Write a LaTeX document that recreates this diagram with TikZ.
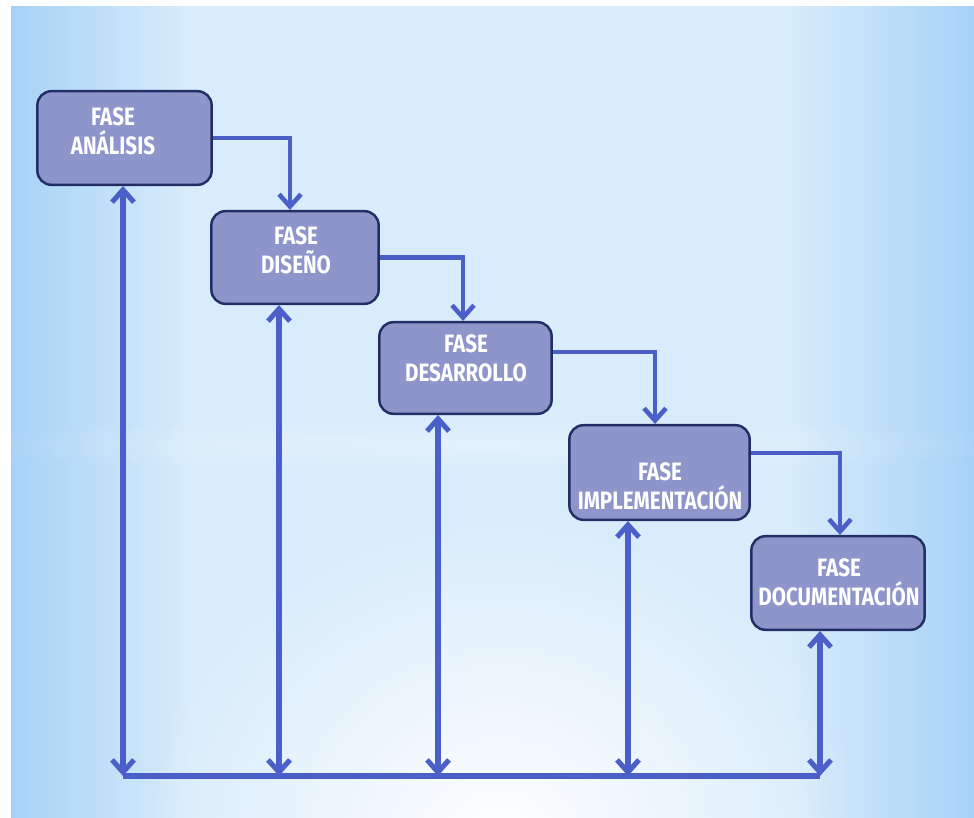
\documentclass[tikz,border=0pt]{standalone}
\usepackage{fontspec}
\usepackage{graphicx}
\setmainfont{Fira Sans}
\usetikzlibrary{arrows.meta,calc,fadings}
\definecolor{bgedge}{HTML}{A6D2F6}
\definecolor{bgmid}{HTML}{D8ECFB}
\definecolor{boxfill}{HTML}{8E95CB}
\definecolor{boxline}{HTML}{232E66}
\definecolor{arr}{HTML}{4A5FC8}
\newcommand\nar[1]{\scalebox{0.82}[1]{#1}}
\def\pxu{0.5669pt}
\tikzfading[name=softglow, inner color=transparent!0, outer color=transparent!100]
\begin{document}
\begin{tikzpicture}[x=0.02cm,y=-0.02cm,
 phase/.style={draw=boxline, line width=1.4pt, fill=boxfill, rounded corners=8pt, inner sep=0pt},
 lbl/.style={text=white, font=\bfseries\fontsize{14.3}{16.5}\selectfont, align=center, inner sep=0pt},
 flow/.style={draw=arr, line width=2.6pt, -{Straight Barb[length=7pt,width=12.5pt]}},
 link/.style={draw=arr, line width=2.9pt, {Straight Barb[length=7pt,width=12.5pt]}-{Straight Barb[length=7pt,width=12.5pt]}},
 base/.style={draw=arr, line width=3.6pt}]
\useasboundingbox (0,0) rectangle (974,818);
\fill[white] (0,0) rectangle (974,818);
\fill[bgmid] (11,6) rectangle (974,818);
\shade[left color=bgedge, right color=bgmid] (11,6) rectangle (190,818);
\shade[left color=bgmid, right color=bgedge] (790,6) rectangle (974,818);
\begin{scope}
\clip (11,6) rectangle (974,818);
\fill[white, path fading=softglow] (500,840) ellipse (360 and 330);
\fill[white, opacity=0.3, path fading=softglow] (487,445) ellipse (560 and 28);
\end{scope}

\node[phase, minimum width=175*\pxu, minimum height=94*\pxu] (box1) at (124.5,138) {};
\node[phase, minimum width=168*\pxu, minimum height=93*\pxu] (box2) at (295,257.5) {};
\node[phase, minimum width=173*\pxu, minimum height=92*\pxu] (box3) at (465.5,368) {};
\node[phase, minimum width=181*\pxu, minimum height=95*\pxu] (box4) at (659.5,472.5) {};
\node[phase, minimum width=174*\pxu, minimum height=94*\pxu] (box5) at (838,583) {};

\node[lbl] (t1) at (113,131) {\nar{FASE}\\\nar{ANÁLISIS}};
\node[lbl] (t2) at (296,250) {\nar{FASE}\\\nar{DISEÑO}};
\node[lbl] (t3) at (466,358) {\nar{FASE}\\\nar{DESARROLLO}};
\node[lbl] (t4) at (660,486) {\nar{FASE}\\\nar{IMPLEMENTACIÓN}};
\node[lbl] (t5) at (839,582) {\nar{FASE}\\\nar{DOCUMENTACIÓN}};

\draw[flow] (box1.east) -| ($(box2.north)+(-5,0)$);
\draw[flow] (box2.east) -| ($(box3.north)+(-2.5,0)$);
\draw[flow] ($(box3.east)+(0,-16)$) -| ($(box4.north)+(-4.5,0)$);
\draw[flow] ($(box4.east)+(0,-19.5)$) -| ($(box5.north)+(2,0)$);

\coordinate (b1) at (123,776);
\coordinate (b2) at (279,776);
\coordinate (b3) at (438,776);
\coordinate (b4) at (628,776);
\coordinate (b5) at (820,776);
\draw[base] (b1) -- (b5);
\draw[link] (b1) -- (b1 |- box1.south);
\draw[link] (b2) -- (b2 |- box2.south);
\draw[link] (b3) -- (b3 |- box3.south);
\draw[link] (b4) -- (b4 |- box4.south);
\draw[link] (b5) -- (b5 |- box5.south);
\end{tikzpicture}
\end{document}
